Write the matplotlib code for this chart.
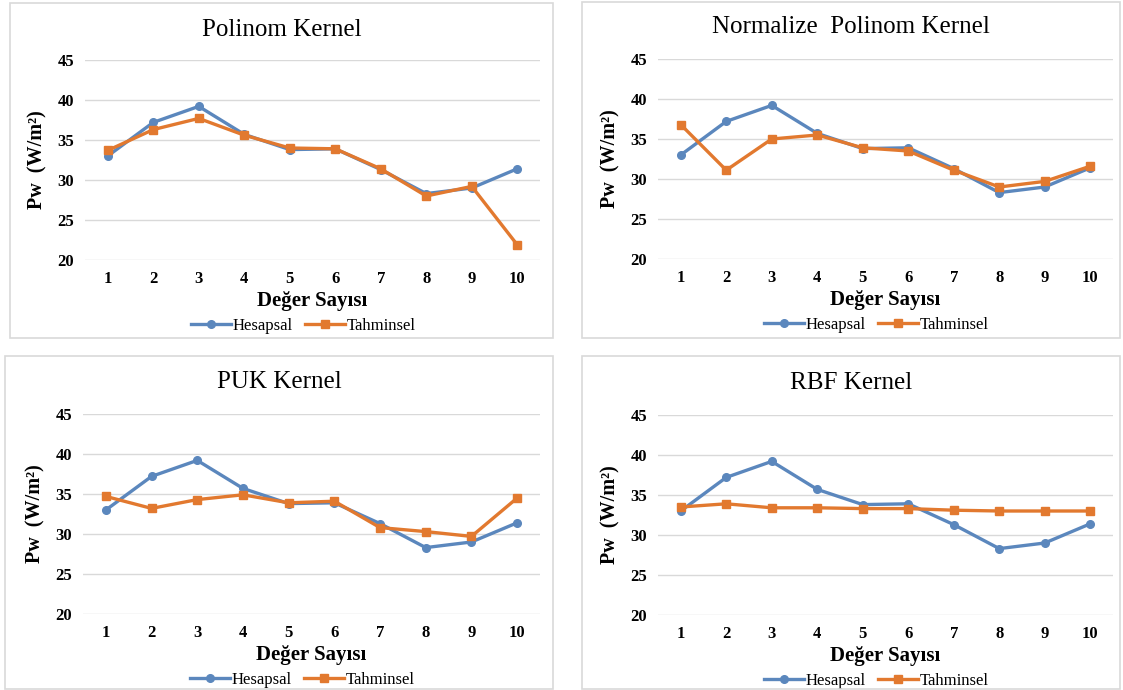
import matplotlib.pyplot as plt
from matplotlib.patches import Rectangle

plt.rcParams['font.family'] = ['Liberation Serif', 'DejaVu Serif']

x_labels = ['1', '2', '3', '4', '5', '6', '7', '8', '9', '10']
hesapsal = [33.0, 37.2, 39.2, 35.7, 33.8, 33.9, 31.3, 28.3, 29.0, 31.4]

polinom = [33.7, 36.3, 37.7, 35.6, 34.0, 33.9, 31.4, 28.0, 29.2, 21.9]
normalize = [36.8, 31.1, 35.0, 35.5, 33.9, 33.5, 31.1, 29.0, 29.7, 31.6]
puk = [34.7, 33.2, 34.3, 34.9, 33.9, 34.1, 30.8, 30.3, 29.7, 34.5]
rbf = [33.5, 33.9, 33.4, 33.4, 33.3, 33.3, 33.1, 33.0, 33.0, 33.0]

titles = ['Polinom Kernel', 'Normalize  Polinom Kernel', 'PUK Kernel', 'RBF Kernel']
tahminsel = [polinom, normalize, puk, rbf]
y_ticks = [20, 25, 30, 35, 40, 45]

W, H = 1123, 690
BLUE = '#5B87BD'
ORANGE = '#E2792F'
GRID = '#d9d9d9'

# pixel layout: (box l, t, r, b), (axes l, t, r, b), title y
layout = [
    ((10, 3, 553, 338), (85, 60, 540, 260), 30),
    ((582, 2, 1120, 338), (658, 59, 1113, 259), 27),
    ((5, 356, 553, 689), (83, 414, 540, 614), 382),
    ((582, 356, 1120, 689), (658, 415, 1113, 615), 383),
]

fig = plt.figure(figsize=(W / 100, H / 100), dpi=100)

for i in range(4):
    (bl, bt, br, bb), (al, at, ar, ab), ty = layout[i]
    fig.patches.append(Rectangle((bl / W, 1 - bb / H), (br - bl) / W, (bb - bt) / H,
                                 transform=fig.transFigure, fill=False,
                                 edgecolor=GRID, linewidth=1.2))
    ax = fig.add_axes([al / W, 1 - ab / H, (ar - al) / W, (ab - at) / H])
    xs = list(range(len(x_labels)))
    ax.plot(xs, hesapsal, color=BLUE, lw=2.4, marker='o', ms=5.5, label='Hesapsal')
    ax.plot(xs, tahminsel[i], color=ORANGE, lw=2.4, marker='s', ms=5.5, label='Tahminsel')
    ax.set_xlim(-0.5, len(x_labels) - 0.5)
    ax.set_ylim(20, 45)
    ax.set_yticks(y_ticks)
    ax.set_xticks(xs)
    ax.set_xticklabels(x_labels)
    ax.grid(axis='y', color=GRID, lw=1)
    ax.set_axisbelow(True)
    for s in ax.spines.values():
        s.set_visible(False)
    ax.tick_params(length=0, labelsize=12, pad=8)
    for lab in ax.get_xticklabels() + ax.get_yticklabels():
        lab.set_fontweight('bold')
    fig.text((bl + br) / 2 / W, 1 - ty / H, titles[i], fontsize=18,
             ha='center', va='center')
    ax.set_xlabel('Değer Sayısı', fontsize=15, fontweight='bold', labelpad=3)
    ax.set_ylabel('Pw  (W/m²)', fontsize=14.5, fontweight='bold', labelpad=7)
    ax.legend(loc='upper center', bbox_to_anchor=(0.48, -0.255), ncol=2, frameon=False,
              fontsize=12, handlelength=2.4, handletextpad=0.1, columnspacing=0.7,
              borderaxespad=0)

fig.savefig('out.png', dpi=100)
